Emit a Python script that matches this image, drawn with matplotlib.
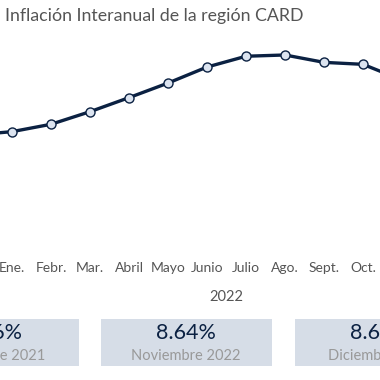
import matplotlib
matplotlib.use("Agg")
import matplotlib.pyplot as plt
from matplotlib.patches import Rectangle

# Data
months = ["Dic.", "Ene.", "Febr.", "Mar.", "Abril", "Mayo", "Junio", "Julio",
          "Ago.", "Sept.", "Oct.", "Nov.", "Dic."]
inflation = [5.58, 5.77, 6.18, 6.88, 7.66, 8.47, 9.36, 9.96, 10.03, 9.62, 9.51, 8.64, 8.62]
year_label = "2022"
card_values = ["5.56%", "8.64%", "8.62%"]
card_labels = ["Diciembre 2021", "Noviembre 2022", "Diciembre 2022"]
title = "Inflación Interanual de la región CARD"

W = H = 380
fig = plt.figure(figsize=(3.8, 3.8), dpi=100)
fig.patch.set_facecolor("white")
plt.rcParams['font.family'] = ['Lato', 'DejaVu Sans']

ax = fig.add_axes([0, 1 - 255 / H, 1, 255 / H])
x = list(range(len(months)))
ax.plot(x, inflation, color="#0b2142", lw=2.4, marker="o", ms=6.5,
        mfc="#dce4f0", mec="#0b2142", mew=1.0, zorder=3, clip_on=True)
ax.set_xticks(x)
ax.set_xticklabels(months, fontsize=10, color="#555555")
ax.tick_params(axis="x", length=0, pad=5)
ax.set_yticks([])
ax.set_xlim(1 - 12 / 39, 1 + (380 - 12) / 39)
ax.set_ylim(8.64 - 175 / 18, 8.64 + 80 / 18)
for s in ax.spines.values():
    s.set_visible(False)

# Year label centered under the 12 months
fig.text((12 + 5.5 * 39) / W, 1 - 297 / H, year_label, ha="center", va="center",
         fontsize=10.5, color="#555555")

# Title
fig.text(5 / W, 1 - 16 / H, title, ha="left", va="center", fontsize=12.8,
         color="#555555")

# Cards
box_w, box_top, box_bot = 171, 319, 366
centers = [-7, 186, 380]
for c, v, lab in zip(centers, card_values, card_labels):
    fig.patches.append(Rectangle(((c - box_w / 2) / W, 1 - box_bot / H),
                                 box_w / W, (box_bot - box_top) / H,
                                 transform=fig.transFigure, facecolor="#d6dde7",
                                 edgecolor="none", zorder=0))
    fig.text(c / W, 1 - 333 / H, v, ha="center", va="center", fontsize=15.5,
             color="#0b2142")
    fig.text(c / W, 1 - 356 / H, lab, ha="center", va="center", fontsize=10.5,
             color="#999999")

fig.savefig("out.png", dpi=100)
